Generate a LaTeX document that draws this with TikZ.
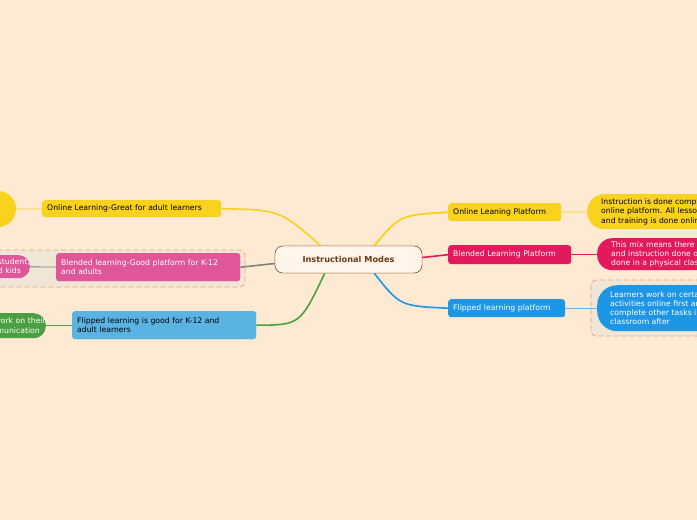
\documentclass[tikz,border=0pt]{standalone}
\usepackage{fontspec}
\setmainfont{DejaVu Sans}
\begin{document}
\begin{tikzpicture}[x=1pt,y=-1pt,
 every node/.style={font=\fontsize{7.7}{9.2}\selectfont,inner sep=0pt},
 box/.style={rounded corners=3pt,align=left,anchor=north west,inner xsep=5pt},
 pill/.style={align=left,anchor=north west,inner xsep=14pt}]
\definecolor{bg}{HTML}{FEE9D3}
\definecolor{yel}{HTML}{F9D21E}
\definecolor{pnk}{HTML}{DF5799}
\definecolor{red}{HTML}{E3195E}
\definecolor{lb}{HTML}{5BB3E3}
\definecolor{blu}{HTML}{1E96E6}
\definecolor{grn}{HTML}{4AA040}
\definecolor{brn}{HTML}{6B3A12}
\definecolor{grpf}{HTML}{F0E6D6}
\definecolor{grpd}{HTML}{EFA07E}
\tikzset{grp/.style={fill=grpf,draw=grpd,dash pattern=on 5pt off 3pt,line width=0.8pt,rounded corners=5pt}}
\useasboundingbox (0,0) rectangle (697,520);
\clip (0,0) rectangle (697,520);
\fill[bg] (0,0) rectangle (697,520);
\path[grp] (-10,250) rectangle (245,287);
\path[grp] (591,280) rectangle (720,336);
% nodes
\node[draw=brn,fill=orange!8,rounded corners=8pt,minimum width=147pt,minimum height=27pt,font=\fontsize{8.2}{9}\bfseries] (c) at (348.5,259.5) {\textcolor{brn}{Instructional Modes}};
\node[box,fill=yel,minimum height=17pt,text width=169pt] (l1) at (42,200) {Online Learning-Great for adult learners};
\node[circle,fill=yel,minimum size=36pt] (l1a) at (-2,209) {};
\node[fill=pnk,text=white,minimum height=23pt,rounded corners=11pt,anchor=north east,text width=120pt,align=right] (l2a) at (30,255) {Good for student,\\parents and kids\hspace*{9pt}};
\node[box,fill=pnk,text=white,minimum height=28pt,text width=174pt] (l2) at (56,253) {Blended learning-Good platform for K-12\\and adults};
\node[box,fill=lb,minimum height=28pt,text width=174pt] (l3) at (72,311) {Flipped learning is good for K-12 and\\adult learners};
\node[fill=grn,text=white,minimum height=25pt,rounded corners=12pt,anchor=north east,text width=140pt,align=right] (l3a) at (46,313) {Students work on their\\own with communication\hspace*{6pt}};
\node[box,fill=yel,minimum height=18pt,text width=103pt] (r1) at (448,203) {Online Leaning Platform};
\node[box,fill=red,text=white,minimum height=19pt,text width=113pt] (r2) at (448,245) {Blended Learning Platform};
\node[box,fill=blu,text=white,minimum height=18pt,text width=107pt] (r3) at (448,299) {Flipped learning platform};
\node[pill,fill=yel,minimum height=35pt,rounded corners=17pt] (r1a) at (587,194) {Instruction is done completely on an\\online platform. All lessons\\and training is done online};
\node[pill,fill=red,text=white,minimum height=32pt,rounded corners=15pt] (r2a) at (597,238) {This mix means there is\\and instruction done online and\\done in a physical classroom};
\node[pill,fill=blu,text=white,minimum height=46pt,rounded corners=20pt,inner xsep=13pt] (r3a) at (597,285) {Learners work on certain\\activities online first and\\complete other tasks in the\\classroom after};
% connectors
\draw[yel,line width=1.8pt] (c.north east)+(-48,0) .. controls (400,215) .. (r1.west);
\draw[red,line width=1.6pt] (c.east)+(0,-2) -- (r2.west);
\draw[blu,line width=1.6pt] (c.south east)+(-48,0) .. controls (400,306) .. (r3.west);
\draw[yel,line width=1.6pt] (c.north west)+(46,0) .. controls (280,210) .. (l1.east);
\draw[gray,line width=1.6pt] (c.west)+(0,4) -- (l2.east);
\draw[grn,line width=1.6pt] (c.south west)+(50,0) .. controls (300,325) .. (l3.east);
\draw[yel,line width=0.8pt] (r1) -- (r1a);
\draw[red,line width=0.8pt] (r2) -- (r2a);
\draw[blu!70,line width=0.8pt] (r3) -- (r3a);
\draw[yel,line width=0.8pt] (l1) -- (l1a);
\draw[gray,line width=0.8pt] (l2) -- (l2a);
\draw[grn,line width=0.8pt] (l3) -- (l3a);
\node[draw=brn,fill=orange!8,rounded corners=8pt,minimum width=147pt,minimum height=27pt,font=\fontsize{8.2}{9}\bfseries] at (348.5,259.5) {\textcolor{brn}{Instructional Modes}};
\node[box,fill=pnk,text=white,minimum height=28pt,text width=174pt] at (56,253) {Blended learning-Good platform for K-12\\and adults};
\node[box,fill=lb,minimum height=28pt,text width=174pt] at (72,311) {Flipped learning is good for K-12 and\\adult learners};
\end{tikzpicture}
\end{document}
